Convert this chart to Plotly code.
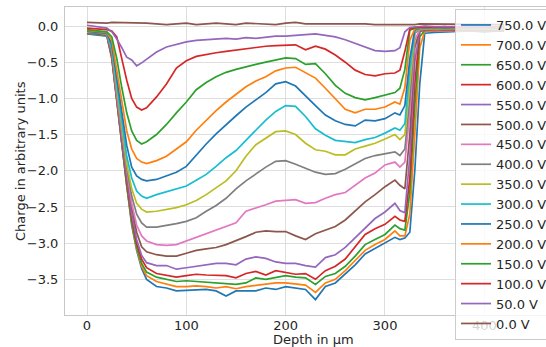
import plotly.graph_objects as go

depth_um = [0, 10, 20, 25, 30, 35, 40, 45, 50, 55, 60,
            70, 80, 90, 100, 110, 120, 130, 140, 150, 160, 170, 180, 190, 200,
            210, 220, 230, 240, 250, 260, 270, 280, 290, 300,
            310, 315, 320, 325, 330, 335, 340,
            350, 360, 370, 380, 390, 400, 410, 420]

labels = ["750.0 V", "700.0 V", "650.0 V", "600.0 V", "550.0 V", "500.0 V", "450.0 V", "400.0 V",
          "350.0 V", "300.0 V", "250.0 V", "200.0 V", "150.0 V", "100.0 V", "50.0 V", "0.0 V"]

v750 = [-0.11, -0.12, -0.14, -0.45, -1.05, -1.65, -2.2, -2.75, -3.1, -3.35, -3.50,
        -3.60, -3.62, -3.66, -3.65, -3.65, -3.64, -3.66, -3.73, -3.66, -3.66, -3.66, -3.62, -3.64, -3.60,
        -3.62, -3.64, -3.78, -3.60, -3.55, -3.42, -3.30, -3.15, -3.07, -3.00,
        -2.92, -2.95, -2.93, -2.85, -2.0, -0.8, -0.1,
        -0.09, -0.08, -0.08, -0.07, -0.07, -0.08, -0.07, -0.07]
v700 = [-0.10, -0.11, -0.13, -0.45, -1.05, -1.65, -2.2, -2.72, -3.08, -3.32, -3.45,
        -3.53, -3.57, -3.60, -3.60, -3.59, -3.60, -3.62, -3.60, -3.63, -3.60, -3.58, -3.56, -3.55, -3.55,
        -3.57, -3.58, -3.68, -3.55, -3.50, -3.38, -3.24, -3.10, -3.02, -2.95,
        -2.83, -2.90, -2.90, -2.6, -1.5, -0.3, -0.07,
        -0.07, -0.06, -0.07, -0.06, -0.06, -0.07, -0.06, -0.06]
v650 = [-0.10, -0.11, -0.13, -0.43, -1.05, -1.65, -2.2, -2.7, -3.05, -3.28, -3.40,
        -3.47, -3.50, -3.53, -3.52, -3.53, -3.53, -3.55, -3.55, -3.57, -3.55, -3.48, -3.50, -3.47, -3.45,
        -3.47, -3.48, -3.57, -3.46, -3.42, -3.32, -3.18, -3.02, -2.95, -2.88,
        -2.75, -2.80, -2.82, -2.3, -1.1, -0.15, -0.06,
        -0.06, -0.06, -0.05, -0.06, -0.05, -0.06, -0.05, -0.05]
v600 = [-0.10, -0.10, -0.12, -0.42, -1.0, -1.6, -2.15, -2.65, -3.0, -3.22, -3.34,
        -3.42, -3.44, -3.47, -3.45, -3.43, -3.44, -3.44, -3.45, -3.48, -3.42, -3.39, -3.44, -3.38, -3.40,
        -3.43, -3.42, -3.50, -3.38, -3.32, -3.22, -3.05, -2.88, -2.80, -2.74,
        -2.63, -2.68, -2.70, -2.1, -0.8, -0.08, -0.05,
        -0.06, -0.05, -0.06, -0.05, -0.05, -0.06, -0.05, -0.05]
v550 = [-0.09, -0.10, -0.12, -0.4, -1.0, -1.6, -2.1, -2.6, -2.95, -3.17, -3.27,
        -3.31, -3.31, -3.36, -3.34, -3.32, -3.30, -3.28, -3.28, -3.30, -3.22, -3.19, -3.21, -3.26, -3.28,
        -3.28, -3.31, -3.33, -3.20, -3.16, -3.06, -2.93, -2.80, -2.66, -2.57,
        -2.45, -2.55, -2.58, -1.8, -0.5, -0.06, -0.05,
        -0.05, -0.06, -0.05, -0.05, -0.04, -0.05, -0.05, -0.04]
v500 = [-0.09, -0.10, -0.12, -0.38, -1.0, -1.55, -2.05, -2.5, -2.85, -3.05, -3.12,
        -3.16, -3.18, -3.18, -3.14, -3.10, -3.08, -3.06, -3.02, -2.97, -2.91, -2.85, -2.83, -2.84, -2.84,
        -2.90, -2.95, -2.87, -2.82, -2.77, -2.68, -2.56, -2.43, -2.33, -2.22,
        -2.13, -2.20, -2.25, -1.5, -0.3, -0.05, -0.04,
        -0.05, -0.05, -0.04, -0.05, -0.04, -0.05, -0.04, -0.04]
v450 = [-0.09, -0.09, -0.12, -0.35, -0.95, -1.5, -2.0, -2.45, -2.75, -2.9, -2.97,
        -3.02, -3.03, -3.02, -2.97, -2.92, -2.86, -2.81, -2.77, -2.72, -2.56, -2.52, -2.47, -2.42, -2.41,
        -2.40, -2.45, -2.44, -2.38, -2.33, -2.30, -2.20, -2.10, -2.03, -1.92,
        -1.88, -1.95, -1.88, -1.2, -0.2, -0.05, -0.04,
        -0.05, -0.04, -0.04, -0.05, -0.04, -0.04, -0.05, -0.04]
v400 = [-0.08, -0.09, -0.11, -0.35, -0.9, -1.45, -1.95, -2.35, -2.6, -2.72, -2.78,
        -2.78, -2.76, -2.73, -2.70, -2.65, -2.56, -2.48, -2.38, -2.25, -2.14, -2.04, -1.95, -1.87, -1.86,
        -1.91, -1.97, -2.02, -2.05, -2.04, -1.98, -1.90, -1.83, -1.79, -1.76,
        -1.74, -1.79, -1.70, -1.0, -0.1, -0.04, -0.03,
        -0.04, -0.04, -0.03, -0.04, -0.03, -0.04, -0.03, -0.03]
v350 = [-0.08, -0.08, -0.10, -0.3, -0.85, -1.4, -1.9, -2.25, -2.45, -2.53, -2.57,
        -2.56, -2.54, -2.51, -2.47, -2.41, -2.33, -2.24, -2.14, -2.0, -1.80, -1.64, -1.55, -1.46, -1.45,
        -1.50, -1.62, -1.71, -1.73, -1.78, -1.78, -1.70, -1.66, -1.62, -1.56,
        -1.50, -1.57, -1.50, -0.8, -0.08, -0.04, -0.03,
        -0.04, -0.03, -0.03, -0.04, -0.03, -0.03, -0.04, -0.03]
v300 = [-0.07, -0.08, -0.10, -0.3, -0.8, -1.35, -1.8, -2.1, -2.28, -2.35, -2.38,
        -2.33, -2.29, -2.25, -2.21, -2.13, -2.05, -1.94, -1.82, -1.72, -1.58, -1.43, -1.30, -1.18, -1.10,
        -1.11, -1.25, -1.42, -1.51, -1.58, -1.60, -1.61, -1.57, -1.54, -1.48,
        -1.41, -1.44, -1.35, -0.6, -0.06, -0.04, -0.03,
        -0.04, -0.03, -0.04, -0.03, -0.03, -0.04, -0.03, -0.03]
v250 = [-0.07, -0.08, -0.10, -0.25, -0.7, -1.2, -1.65, -1.95, -2.07, -2.12, -2.14,
        -2.12, -2.07, -2.02, -1.94, -1.78, -1.63, -1.49, -1.36, -1.24, -1.12, -1.02, -0.92, -0.80, -0.77,
        -0.83, -0.97, -1.10, -1.23, -1.31, -1.36, -1.38, -1.30, -1.31, -1.28,
        -1.20, -1.23, -1.10, -0.45, -0.05, -0.03, -0.03,
        -0.03, -0.04, -0.03, -0.03, -0.02, -0.03, -0.03, -0.02]
v200 = [-0.06, -0.07, -0.09, -0.2, -0.6, -1.05, -1.45, -1.7, -1.83, -1.88, -1.90,
        -1.86, -1.80, -1.70, -1.60, -1.44, -1.30, -1.17, -1.05, -0.94, -0.84, -0.76, -0.70, -0.62, -0.58,
        -0.57, -0.64, -0.72, -0.86, -1.00, -1.15, -1.20, -1.15, -1.15, -1.12,
        -1.05, -1.08, -0.85, -0.2, -0.04, -0.03, -0.02,
        -0.03, -0.02, -0.03, -0.02, -0.02, -0.03, -0.02, -0.02]
v150 = [-0.05, -0.06, -0.08, -0.15, -0.45, -0.85, -1.2, -1.45, -1.58, -1.63, -1.60,
        -1.50, -1.36, -1.20, -1.05, -0.88, -0.78, -0.70, -0.64, -0.60, -0.56, -0.53, -0.50, -0.47, -0.44,
        -0.45, -0.53, -0.52, -0.66, -0.82, -0.93, -0.99, -1.02, -0.99, -0.95,
        -0.92, -0.86, -0.60, -0.06, -0.03, -0.02, -0.02,
        -0.02, -0.03, -0.02, -0.02, -0.03, -0.02, -0.02, -0.02]
v100 = [-0.03, -0.04, -0.05, -0.07, -0.15, -0.45, -0.75, -1.0, -1.12, -1.16, -1.13,
        -0.98, -0.80, -0.58, -0.48, -0.42, -0.39, -0.37, -0.35, -0.33, -0.31, -0.30, -0.28, -0.27, -0.26,
        -0.26, -0.33, -0.28, -0.32, -0.40, -0.50, -0.61, -0.67, -0.69, -0.66,
        -0.65, -0.61, -0.35, -0.04, -0.02, -0.02, -0.01,
        -0.02, -0.01, -0.02, -0.02, -0.01, -0.02, -0.02, -0.01]
v50 = [0.01, -0.01, -0.03, -0.08, -0.18, -0.30, -0.43, -0.47, -0.55, -0.51, -0.46,
       -0.36, -0.29, -0.25, -0.22, -0.20, -0.19, -0.19, -0.17, -0.18, -0.16, -0.17, -0.15, -0.14, -0.14,
       -0.13, -0.12, -0.11, -0.13, -0.15, -0.19, -0.24, -0.30, -0.34, -0.35,
       -0.34, -0.30, -0.08, -0.02, -0.01, 0.0, 0.0,
       -0.01, -0.01, 0.0, -0.01, -0.01, 0.0, -0.01, -0.01]
v0 = [0.05, 0.04, 0.04, 0.05, 0.05, 0.05, 0.04, 0.05, 0.05, 0.04, 0.04,
      0.03, 0.02, 0.03, 0.04, 0.02, 0.03, 0.04, 0.03, 0.02, 0.04, 0.03, 0.03, 0.02, 0.04,
      0.05, 0.03, 0.03, 0.04, 0.04, 0.04, 0.03, 0.03, 0.02, 0.02,
      0.02, 0.02, 0.02, 0.01, 0.02, 0.03, 0.03,
      0.03, 0.02, 0.03, 0.02, 0.02, 0.03, 0.02, 0.02]

series = [v750, v700, v650, v600, v550, v500, v450, v400, v350, v300, v250, v200, v150, v100, v50, v0]

tab10 = ["#1f77b4", "#ff7f0e", "#2ca02c", "#d62728", "#9467bd",
         "#8c564b", "#e377c2", "#7f7f7f", "#bcbd22", "#17becf"]

x_ticks = [0, 100, 200, 300, 400]
y_ticks = [0.0, -0.5, -1.0, -1.5, -2.0, -2.5, -3.0, -3.5]

FONT = "DejaVu Sans"
TXT = "#262626"

fig = go.Figure()
for i, (lab, vals) in enumerate(zip(labels, series)):
    fig.add_trace(go.Scatter(x=depth_um, y=vals, mode="lines", name=lab,
                             line=dict(color=tab10[i % 10], width=1.7)))

W, H = 546, 347
L, R, T, B = 65, 0, 7, 32
pw = W - L - R
ph = H - T - B

fig.update_layout(
    width=W, height=H,
    margin=dict(l=L, r=R, t=T, b=B, pad=0, autoexpand=False),
    paper_bgcolor="white", plot_bgcolor="white",
    font=dict(family=FONT, size=13, color=TXT),
    showlegend=True,
    legend=dict(
        x=(455 - L) / pw, y=(T + ph - 9) / ph, xanchor="left", yanchor="top",
        bgcolor="rgba(255,255,255,0.8)", bordercolor="#cccccc", borderwidth=1,
        font=dict(family=FONT, size=13, color=TXT), traceorder="normal",
        maxheight=340,
    ),
    xaxis=dict(
        range=[(L - 87) / 0.9933, (W - 87) / 0.9933],
        tickvals=x_ticks, tickformat="d",
        showgrid=True, gridcolor="#dedede", gridwidth=1,
        showline=True, linecolor="#c8c8c8", linewidth=1, mirror=True,
        zeroline=False, ticks="", ticklabelstandoff=-2,
        tickfont=dict(family=FONT, size=13, color=TXT),
    ),
    yaxis=dict(
        range=[-3.993, 0.2625],
        tickvals=y_ticks, tickformat=".1f",
        showgrid=True, gridcolor="#dedede", gridwidth=1,
        showline=True, linecolor="#c8c8c8", linewidth=1, mirror=True,
        zeroline=False, ticks="", ticklabelstandoff=3,
        tickfont=dict(family=FONT, size=13, color=TXT),
    ),
    annotations=[
        dict(text="Depth in µm", xref="paper", yref="paper",
             x=(313 - L) / pw, y=(T + ph - 339.5) / ph, xanchor="center", yanchor="middle",
             showarrow=False, font=dict(family=FONT, size=13, color=TXT)),
        dict(text="Charge in arbitrary units", xref="paper", yref="paper",
             x=(20 - L) / pw, y=0.5, xanchor="center", yanchor="middle", textangle=-90,
             showarrow=False, font=dict(family=FONT, size=13, color=TXT)),
    ],
)

fig.write_html("out.html")
